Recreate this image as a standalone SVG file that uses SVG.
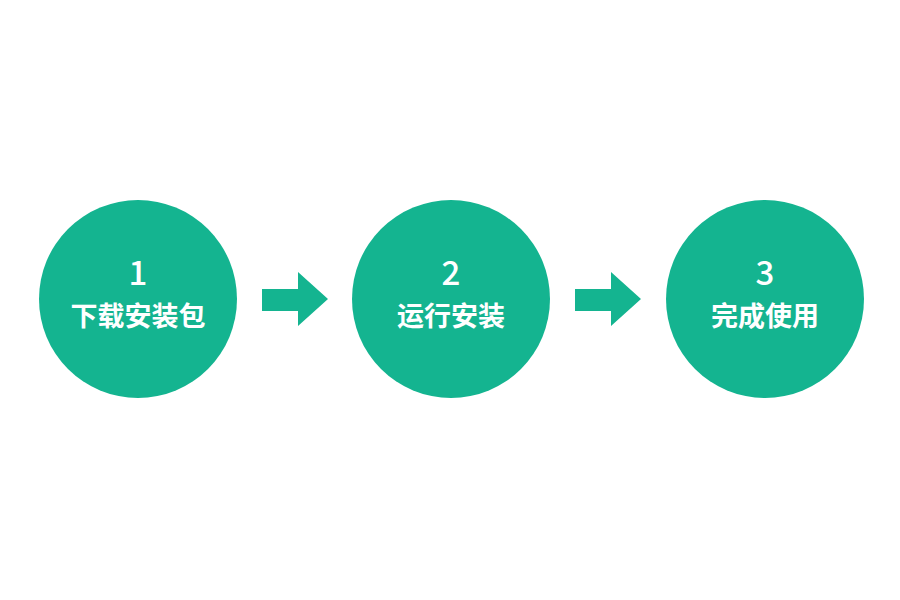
<svg xmlns="http://www.w3.org/2000/svg" width="900" height="600" viewBox="0 0 900 600">
<style>
.c{fill:#14b490}
.a{fill:#14b490}
.n{font-family:"Noto Sans CJK SC","Noto Sans",sans-serif;font-size:33px;font-weight:500;fill:#fff;text-anchor:middle}
.t{font-family:"Noto Sans CJK SC","Noto Sans",sans-serif;font-size:27px;font-weight:bold;fill:#fff;text-anchor:middle}
</style>
<rect width="900" height="600" fill="#fff"/>
<g id="step1"><circle class="c" cx="138" cy="299" r="99"/><text class="n" x="138" y="285">1</text><text class="t" x="138" y="326">下载安装包</text></g>
<g id="step2"><circle class="c" cx="451" cy="299" r="99"/><text class="n" x="451" y="285">2</text><text class="t" x="451" y="326">运行安装</text></g>
<g id="step3"><circle class="c" cx="765" cy="299" r="99"/><text class="n" x="765" y="285">3</text><text class="t" x="765" y="326">完成使用</text></g>
<g id="connectors">
<polygon class="a" points="262,289 298,289 298,272 328,299 298,326 298,311 262,311"/>
<polygon class="a" points="575,289 611,289 611,272 641,299 611,326 611,311 575,311"/>
</g>
</svg>
